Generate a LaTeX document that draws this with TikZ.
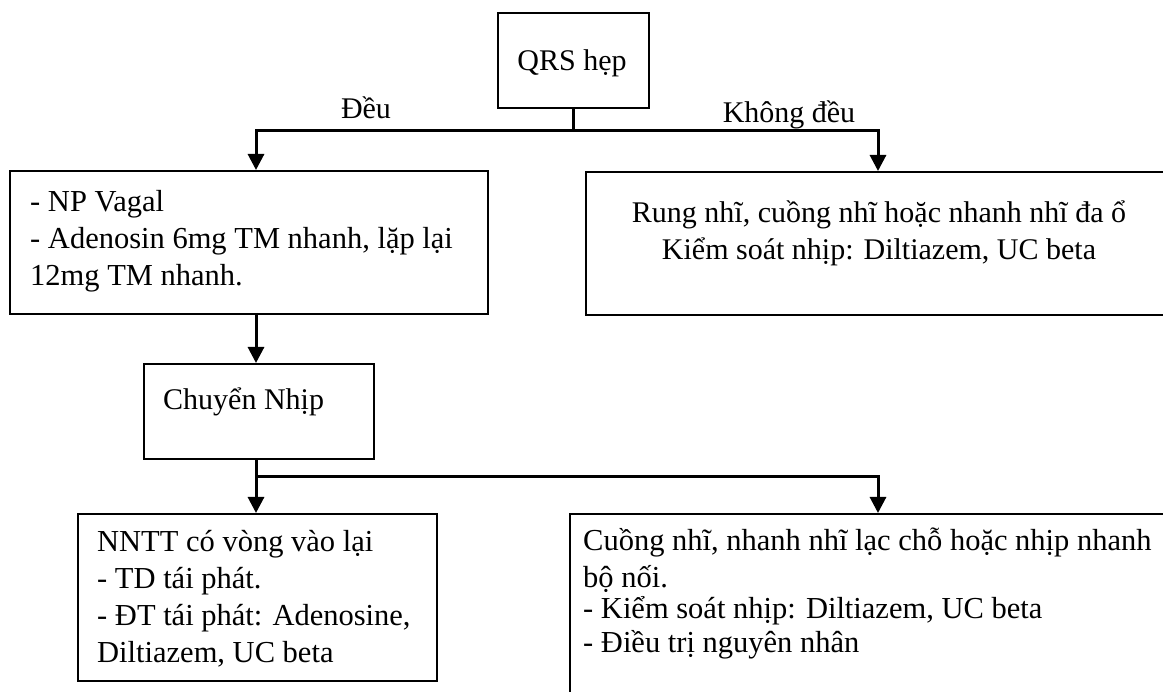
\documentclass[tikz,border=0pt]{standalone}
\usepackage{fontspec}
\setmainfont{Liberation Serif}
\usetikzlibrary{arrows.meta}
\newcommand{\tstrut}{\rule{0pt}{30pt}}
\begin{document}
\begin{tikzpicture}[x=1pt,y=-1pt,
  box/.style={draw=black, line width=1.6pt, inner sep=0pt, anchor=north west},
  body/.style={inner sep=0pt, anchor=north west, align=left,
    font=\fontsize{30.5}{37}\selectfont},
  cbody/.style={inner sep=0pt, anchor=north, align=center,
    font=\fontsize{30}{37}\selectfont},
  lbl/.style={inner sep=0pt, anchor=base, font=\fontsize{30}{34}\selectfont},
  link/.style={line width=3pt},
  arr/.style={line width=3pt, -{Triangle[width=16pt,length=16pt]}},
]
\clip (0,0) rectangle (1163,692);
\fill[white] (0,0) rectangle (1163,692);

% boxes
\node[box, minimum width=151pt, minimum height=95pt] (qrs) at (497,12) {};
\node[box, minimum width=478pt, minimum height=143pt] (b1) at (9,170) {};
\node[box, minimum width=700pt, minimum height=143pt] (b2) at (585,171) {};
\node[box, minimum width=230pt, minimum height=95pt] (cn) at (143,363) {};
\node[box, minimum width=359pt, minimum height=167pt] (b3) at (77,513) {};
\node[box, minimum width=700pt, minimum height=300pt] (b4) at (569,513) {};

% texts
\node[lbl] (qrst) at (572,71) {QRS hẹp};
\node[lbl] (deu) at (366,119) {Đều};
\node[lbl] (kdeu) at (789,123) {Không đều};
\node[body] (b1t) at (30,181) {\tstrut- NP Vagal\\- Adenosin 6mg TM nhanh, lặp lại\\12mg TM nhanh.};
\node[cbody] (b2t) at (879,192) {\tstrut Rung nhĩ, cuồng nhĩ hoặc nhanh nhĩ đa ổ\\Kiểm soát nhịp: Diltiazem, UC beta};
\node[lbl, anchor=base west] (cnt) at (163,410) {Chuyển Nhịp};
\node[body] (b3t) at (97,521) {\tstrut NNTT có vòng vào lại\\- TD tái phát.\\- ĐT tái phát: Adenosine,\\Diltiazem, UC beta};
\node[body] (b4t) at (583,520) {\tstrut Cuồng nhĩ, nhanh nhĩ lạc chỗ hoặc nhịp nhanh\\bộ nối.\\[-6pt]- Kiểm soát nhịp: Diltiazem, UC beta\\[-3pt]- Điều trị nguyên nhân};

% connector ends
\coordinate (j1) at (qrs.south |- 0,131);
\coordinate (in1) at (256,170);
\coordinate (in2) at (878,171);
\coordinate (out1) at (256,313);
\coordinate (j2) at (256,477);
\coordinate (in3) at (256,513);
\coordinate (in4) at (878,513);

% connectors
\draw[link] (qrs.south) -- (j1);
\draw[arr] (j1) -| (in1);
\draw[arr] (j1) -| (in2);
\draw[arr] (out1) -- (cn.north -| out1);
\draw[arr] (cn.south -| j2) -- (in3);
\draw[arr] (j2) -| (in4);
\end{tikzpicture}
\end{document}
